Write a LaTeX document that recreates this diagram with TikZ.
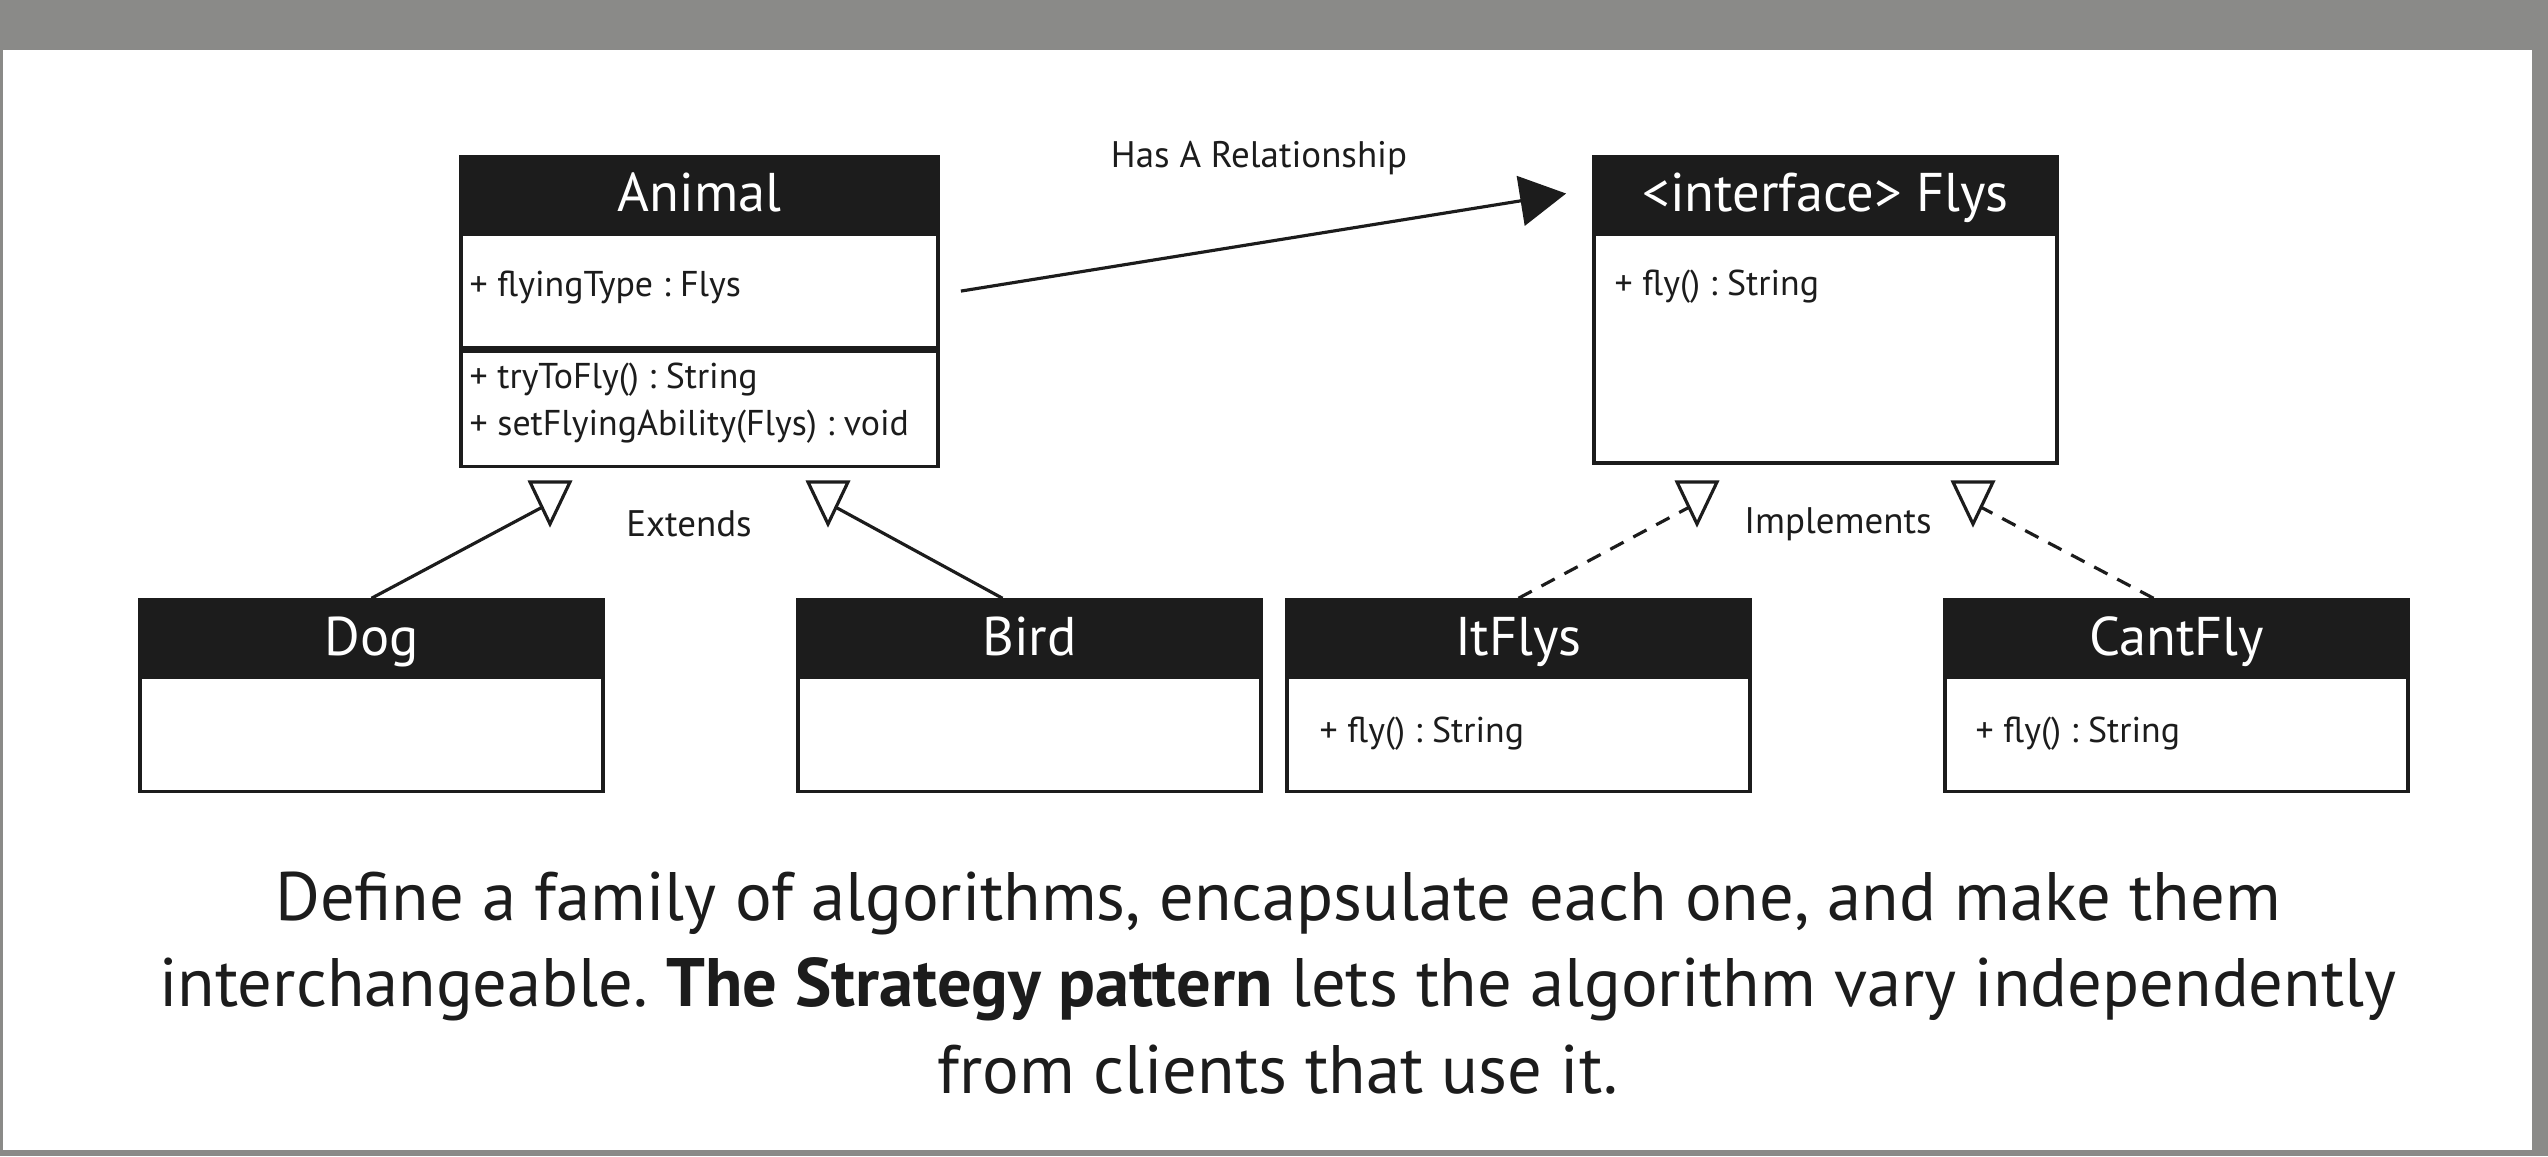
\documentclass[tikz,border=0pt]{standalone}
\usepackage{fontspec}
\setmainfont{PT Sans}
\usepackage{tikz}
\usetikzlibrary{arrows.meta,positioning}
\definecolor{umlink}{HTML}{1C1C1C}
\definecolor{framegray}{HTML}{8A8A88}
\frenchspacing

\begin{document}
\begin{tikzpicture}[x=0.01cm, y=-0.01cm,
  hdr/.style={draw=umlink, fill=umlink, text=white, line width=1pt, minimum width=4.63cm, minimum height=0.74cm, inner sep=0pt, text height=12.4pt, text depth=2.1pt, font=\fontsize{15.5}{18}\selectfont},
  body/.style={draw=umlink, fill=white, line width=1pt, minimum width=4.63cm, inner sep=0pt},
  member/.style={inner sep=0pt, anchor=west, text=umlink, align=left, font=\fontsize{10.2}{13.4}\selectfont},
  lbl/.style={inner sep=0pt, text=umlink, font=\fontsize{10.5}{12}\selectfont},
  link/.style={umlink, line width=0.9pt},
  realize/.style={link, dash pattern=on 0.15cm off 0.11cm},
  opentri/.pic={\draw[umlink, line width=0.9pt, fill=white, line join=miter] (-20,-21) -- (20,-21) -- (0,21) -- cycle;}]
  \useasboundingbox (0,0) rectangle (2548,1156);
  \fill[framegray] (0,0) rectangle (2548,1156);
  \fill[white] (3,50) rectangle (2532,1150);
  % top row
  \node[hdr, minimum width=4.77cm] (animal) at (699.5,193.5) {Animal};
  \node[body, minimum width=4.77cm, minimum height=1.14cm, below=0pt of animal] (animalattr) {};
  \node[body, minimum width=4.77cm, minimum height=1.15cm, below=0pt of animalattr] (animalops) {};
  \node[member] (flyingtype) at (469,288) {+ flyingType : Flys};
  \node[member] (animalmeth) at (469,403) {+ tryToFly() : String\\+ setFlyingAbility(Flys) : void};
  \node[hdr] (flys) at (1825.5,193.5) {<interface> Flys};
  \node[body, minimum height=2.29cm, below=0pt of flys] (flysbody) {};
  \node[member] (flysfly) at (1614,287) {+ fly() : String};
  % bottom row
  \node[hdr] (dog) at (371.5,637) {Dog};
  \node[body, minimum height=1.14cm, below=0pt of dog] (dogbody) {};
  \node[hdr] (bird) at (1029.5,637) {Bird};
  \node[body, minimum height=1.14cm, below=0pt of bird] (birdbody) {};
  \node[hdr] (itflys) at (1518.5,637) {ItFlys};
  \node[body, minimum height=1.14cm, below=0pt of itflys] (itflysbody) {};
  \node[member] (itflysfly) at (1319,734) {+ fly() : String};
  \node[hdr] (cantfly) at (2176.5,637) {CantFly};
  \node[body, minimum height=1.14cm, below=0pt of cantfly] (cantflybody) {};
  \node[member] (cantflyfly) at (1975,734) {+ fly() : String};
  % relations
  \coordinate (extdog) at (550,503);
  \coordinate (extbird) at (828,503);
  \coordinate (impit) at (1697,503);
  \coordinate (impcant) at (1973,503);
  \draw[link] (dog.north) -- (extdog);
  \draw[link] ([xshift=-0.27cm]bird.north) -- (extbird);
  \draw[realize] (itflys.north) -- (impit);
  \draw[realize] ([xshift=-0.23cm]cantfly.north) -- (impcant);
  \foreach \c in {extdog,extbird,impit,impcant}{\pic at (\c) {opentri};}
  \draw[link, -{Triangle[length=0.46cm, width=0.5cm]}] ([xshift=0.21cm]animalattr.east) -- ([xshift=-0.26cm]flys.west);
  \node[lbl] (hasa) at (1259,158) {Has A Relationship};
  \node[lbl] (extends) at (689,524) {Extends};
  \node[lbl] (implements) at (1838,524) {Implements};
  % caption
  \node[align=center, text=umlink, inner sep=0pt, font=\fontsize{19.5}{24.6}\selectfont] (motto) at (1278,983)
    {Define a family of algorithms, encapsulate each one, and make them\\
     interchangeable. \textbf{The Strategy pattern} lets the algorithm vary independently\\
     from clients that use it.};
\end{tikzpicture}
\end{document}
